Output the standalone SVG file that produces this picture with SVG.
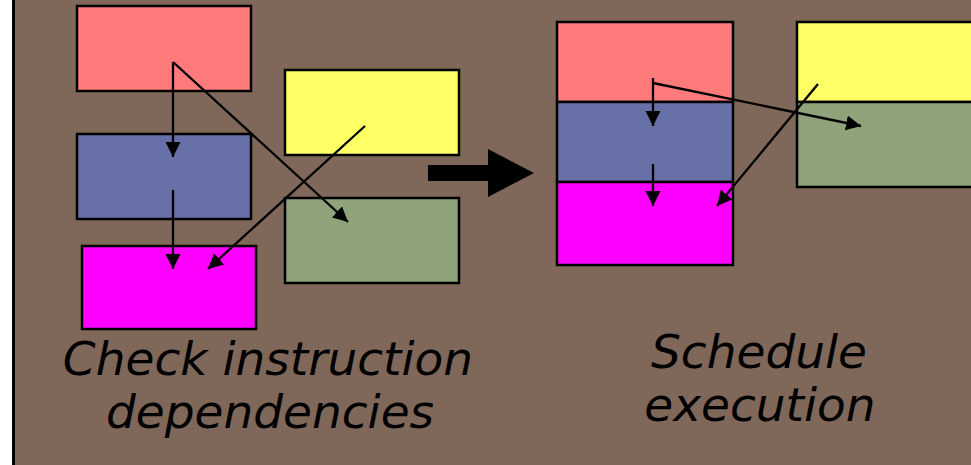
<svg xmlns="http://www.w3.org/2000/svg" width="971" height="465" viewBox="0 0 971 465">
<defs>
<marker id="ah" markerUnits="userSpaceOnUse" markerWidth="18" markerHeight="16" refX="15" refY="7.5" orient="auto">
<path d="M0,0 L15,7.5 L0,15 Z" fill="#000"/>
</marker>
</defs>
<style>
.box{stroke:#000;stroke-width:2.5}
.con{stroke:#000;stroke-width:2.3;fill:none;marker-end:url(#ah)}
.lbl{font-family:"DejaVu Sans",Verdana,sans-serif;font-style:italic;font-size:47px;fill:#000;text-anchor:middle}
</style>
<rect x="0" y="0" width="971" height="465" fill="#fff"/>
<rect x="13" y="0" width="958" height="465" fill="#7F6859"/>
<line x1="13.5" y1="0" x2="13.5" y2="465" stroke="#000" stroke-width="3"/>

<g id="left-red"><rect class="box" x="77" y="6" width="174" height="85" fill="#FF7B7B"/></g>
<g id="left-blue"><rect class="box" x="77" y="134" width="174" height="85" fill="#6870A8"/></g>
<g id="left-magenta"><rect class="box" x="82" y="246" width="174" height="83" fill="#FF00FF"/></g>
<g id="left-yellow"><rect class="box" x="285" y="70" width="174" height="85" fill="#FFFF66"/></g>
<g id="left-green"><rect class="box" x="285" y="198" width="174" height="85" fill="#8FA37A"/></g>

<g id="right-red"><rect class="box" x="557" y="22" width="176" height="80" fill="#FF7B7B"/></g>
<g id="right-blue"><rect class="box" x="557" y="102" width="176" height="80" fill="#6870A8"/></g>
<g id="right-magenta"><rect class="box" x="557" y="182" width="176" height="83" fill="#FF00FF"/></g>
<g id="right-yellow"><rect class="box" x="797" y="22" width="180" height="80" fill="#FFFF66"/></g>
<g id="right-green"><rect class="box" x="797" y="102" width="180" height="85" fill="#8FA37A"/></g>

<g id="big-arrow"><path d="M428,165 L488,165 L488,149 L534,173 L488,197 L488,181 L428,181 Z" fill="#000"/></g>

<g id="connectors">
<line class="con" x1="173" y1="62" x2="173" y2="157"/>
<line class="con" x1="173" y1="62" x2="348" y2="222"/>
<line class="con" x1="173" y1="190" x2="173" y2="269"/>
<line class="con" x1="365" y1="126" x2="208" y2="269"/>
<line class="con" x1="653" y1="78" x2="653" y2="126"/>
<line class="con" x1="653" y1="83" x2="861" y2="126"/>
<line class="con" x1="653" y1="164" x2="653" y2="206"/>
<line class="con" x1="818" y1="84" x2="717" y2="206"/>
</g>

<g id="labels">
<text class="lbl" x="268" y="375">Check instruction</text>
<text class="lbl" x="270" y="428">dependencies</text>
<text class="lbl" x="759" y="368">Schedule</text>
<text class="lbl" x="760" y="421">execution</text>
</g>
</svg>
